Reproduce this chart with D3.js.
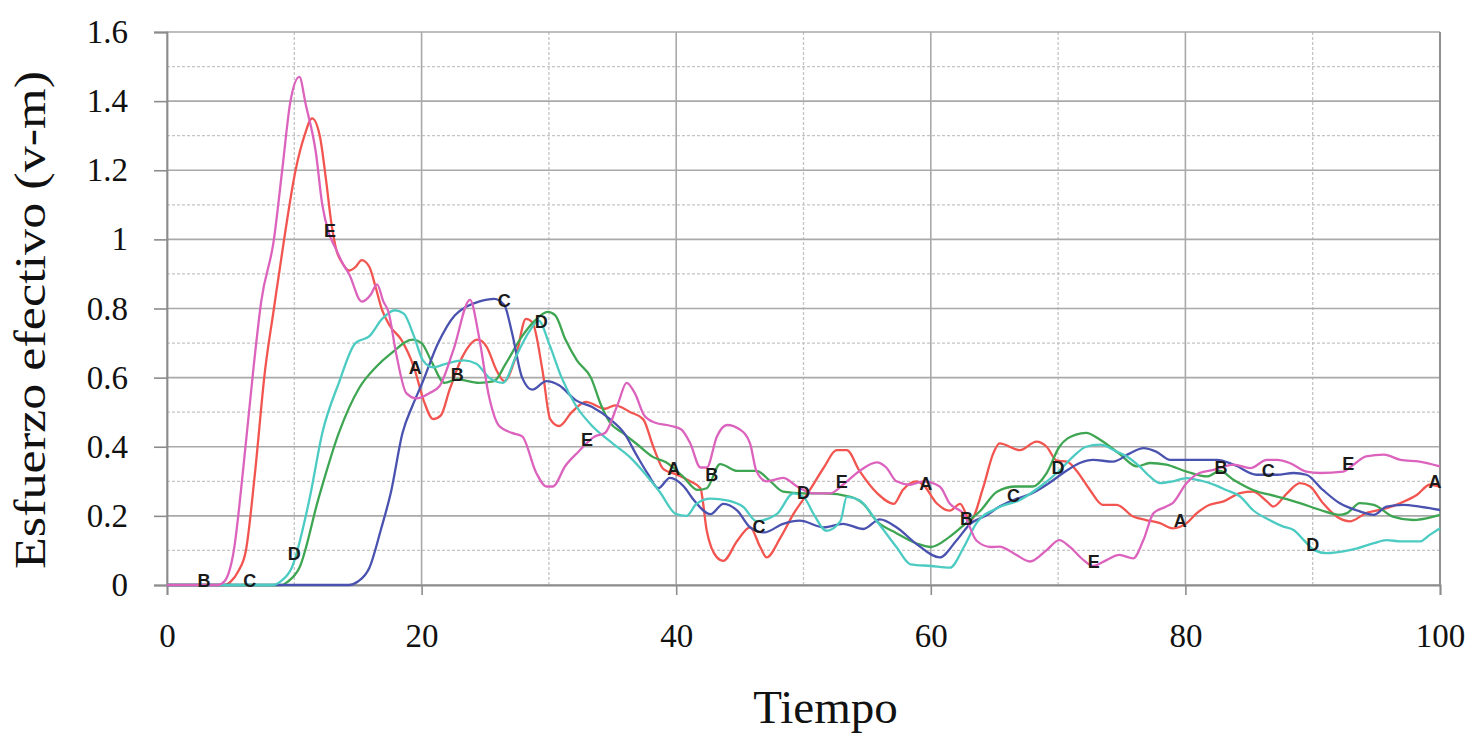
<!DOCTYPE html>
<html>
<head>
<meta charset="utf-8">
<script src="https://d3js.org/d3.v7.min.js"></script>
<style>
body { margin: 0; background: #fff; }
.tick text { font-family: "Liberation Serif", "Times New Roman", serif; fill: #111; }
.curve { fill: none; stroke-width: 2.3; stroke-linejoin: round; }
.tag { font-family: "Liberation Sans", Arial, sans-serif; font-weight: bold; font-size: 18px; fill: #1a1a1a; }
</style>
</head>
<body>
<div id="chart"></div>
<script>
// series A (red)
const serieA = [[0,0],[4.5,0],[5.0,0.01],[5.6,0.04],[6.2,0.10],[6.9,0.32],[7.7,0.62],[8.4,0.80],[9.2,1.0],[10.1,1.2],[10.8,1.3],[11.4,1.35],[12.0,1.3],[12.5,1.17],[12.9,1.05],[13.3,0.97],[13.8,0.93],[14.3,0.91],[14.8,0.92],[15.3,0.94],[15.9,0.92],[16.4,0.86],[16.9,0.795],[17.5,0.75],[18.4,0.71],[19.4,0.63],[20.2,0.53],[20.9,0.48],[21.5,0.49],[22.2,0.565],[23.2,0.66],[24.4,0.71],[25.1,0.69],[25.9,0.62],[26.5,0.59],[27.4,0.66],[28.2,0.77],[28.7,0.76],[29.5,0.62],[30.1,0.48],[30.8,0.46],[31.8,0.50],[32.9,0.53],[34.4,0.51],[35.2,0.52],[36.4,0.50],[37.4,0.48],[38.2,0.40],[39.0,0.335],[40.0,0.32],[41.1,0.30],[41.9,0.28],[42.4,0.157],[43.2,0.08],[43.7,0.07],[44.8,0.128],[45.8,0.167],[46.6,0.11],[47.1,0.08],[48.2,0.138],[49.2,0.205],[50.5,0.275],[51.6,0.34],[52.6,0.39],[53.4,0.39],[54.4,0.33],[55.8,0.265],[57.1,0.235],[57.8,0.275],[58.9,0.30],[59.4,0.29],[60.5,0.235],[61.5,0.215],[62.3,0.235],[63.1,0.186],[64.1,0.28],[64.9,0.38],[65.4,0.41],[67.0,0.39],[68.3,0.415],[69.1,0.40],[69.9,0.36],[70.7,0.357],[71.4,0.333],[72.5,0.275],[73.5,0.232],[74.6,0.232],[75.9,0.198],[76.9,0.188],[78.0,0.179],[79.0,0.164],[80.1,0.179],[80.9,0.208],[81.9,0.232],[83.0,0.242],[84.3,0.266],[85.3,0.27],[86.4,0.242],[86.9,0.227],[88.0,0.266],[89.0,0.295],[89.8,0.285],[90.8,0.237],[92.1,0.193],[92.9,0.184],[94.2,0.208],[95.8,0.222],[96.9,0.237],[98.2,0.261],[99.2,0.29],[100,0.285]];

// series B (green)
const serieB = [[0,0],[9.0,0],[9.5,0.01],[10.4,0.05],[11.9,0.25],[13.5,0.44],[15.1,0.57],[16.4,0.63],[17.6,0.67],[19.3,0.71],[20.0,0.70],[20.8,0.645],[21.8,0.585],[22.8,0.595],[24.5,0.585],[25.7,0.59],[26.6,0.64],[27.9,0.72],[28.9,0.765],[29.9,0.79],[30.5,0.78],[31.3,0.71],[32.2,0.65],[33.3,0.60],[34.1,0.52],[34.8,0.47],[35.8,0.44],[37.0,0.405],[38.2,0.37],[39.2,0.355],[40.5,0.315],[41.7,0.275],[42.4,0.28],[43.45,0.35],[44.8,0.33],[46.3,0.33],[47.4,0.30],[48.4,0.27],[50,0.265],[51.6,0.265],[53.7,0.255],[54.7,0.235],[55.75,0.185],[57.3,0.15],[58.9,0.12],[60,0.11],[61.5,0.14],[62.8,0.18],[63.9,0.215],[65.2,0.27],[66.7,0.285],[68,0.285],[69.1,0.324],[70.1,0.40],[71.4,0.435],[72.2,0.44],[73.3,0.42],[74.8,0.38],[76.2,0.343],[77.2,0.353],[78.5,0.348],[80.1,0.328],[81.7,0.314],[82.7,0.33],[83.8,0.304],[85.3,0.275],[87.2,0.256],[89,0.237],[90.6,0.217],[92.1,0.203],[92.7,0.208],[93.7,0.237],[94.8,0.232],[96.3,0.198],[97.9,0.188],[99.5,0.198],[100,0.203]];

// series C (blue)
const serieC = [[0,0],[14.3,0],[15.0,0.01],[15.9,0.05],[16.8,0.16],[17.6,0.27],[18.5,0.44],[19.3,0.52],[20.0,0.58],[21.3,0.70],[22.6,0.78],[23.5,0.805],[24.5,0.82],[25.7,0.828],[26.5,0.81],[27.1,0.73],[27.9,0.60],[28.7,0.565],[29.8,0.59],[30.8,0.578],[32.1,0.535],[33.4,0.515],[34.8,0.48],[35.9,0.44],[36.9,0.375],[37.8,0.32],[38.6,0.28],[39.5,0.31],[40.6,0.285],[41.4,0.245],[42.7,0.205],[43.7,0.235],[44.8,0.215],[45.8,0.167],[46.9,0.152],[48.4,0.177],[49.7,0.186],[51.6,0.167],[53.1,0.177],[54.7,0.162],[56,0.19],[57.3,0.167],[58.9,0.118],[60.7,0.08],[62,0.128],[63.1,0.177],[64.3,0.20],[65.4,0.227],[66.5,0.246],[68,0.266],[69.3,0.295],[70.4,0.324],[71.7,0.353],[72.75,0.362],[74.3,0.357],[75.6,0.38],[76.7,0.396],[77.7,0.386],[78.8,0.362],[80.6,0.362],[82.5,0.362],[83.8,0.348],[85.6,0.319],[87.2,0.319],[88.5,0.324],[89.5,0.319],[90.8,0.275],[92.1,0.237],[93.7,0.213],[94.8,0.203],[95.8,0.227],[97.1,0.232],[98.4,0.227],[100,0.217]];

// series D (cyan)
const serieD = [[0,0],[8.3,0],[8.9,0.01],[9.8,0.05],[11.2,0.25],[12.2,0.44],[13.5,0.585],[14.8,0.70],[15.9,0.72],[16.9,0.77],[17.9,0.795],[18.6,0.785],[19.4,0.72],[20.1,0.65],[20.9,0.63],[21.9,0.64],[23.3,0.65],[24.3,0.64],[25.3,0.60],[26.4,0.585],[27.4,0.66],[28.4,0.73],[29.2,0.765],[30.0,0.70],[31.0,0.60],[32.1,0.52],[33.4,0.46],[35,0.41],[36.5,0.365],[37.6,0.32],[38.7,0.27],[40,0.205],[40.8,0.20],[41.6,0.235],[42.7,0.25],[44,0.245],[45.3,0.225],[46.3,0.185],[47.9,0.205],[49.2,0.265],[50,0.255],[50.8,0.205],[51.8,0.157],[52.9,0.185],[53.4,0.255],[54.4,0.245],[55.75,0.185],[57.3,0.11],[58.4,0.06],[60,0.055],[61.5,0.05],[62.6,0.11],[63.6,0.18],[65.2,0.222],[67,0.246],[68.6,0.285],[69.9,0.324],[71.2,0.372],[72.2,0.40],[73.3,0.406],[74.6,0.386],[75.4,0.372],[76.4,0.343],[77.2,0.314],[78,0.295],[79,0.30],[80.1,0.309],[80.9,0.304],[81.9,0.295],[83.2,0.275],[84.3,0.256],[85.3,0.217],[86.6,0.188],[87.7,0.169],[88.5,0.159],[89.3,0.13],[90.1,0.101],[91.1,0.092],[92.4,0.097],[93.5,0.106],[94.8,0.121],[95.8,0.13],[96.9,0.126],[98.4,0.126],[99.2,0.145],[100,0.164]];

// series E (magenta)
const serieE = [[0,0],[4.0,0],[4.5,0.01],[5.25,0.1],[6.0,0.34],[6.8,0.63],[7.4,0.82],[8.4,1.0],[9.05,1.2],[9.7,1.4],[10.4,1.47],[10.9,1.39],[11.7,1.25],[12.2,1.1],[12.7,1.02],[13.3,0.97],[13.8,0.93],[14.3,0.90],[15.3,0.82],[16.0,0.84],[16.5,0.87],[17.0,0.82],[17.4,0.79],[18.0,0.67],[18.8,0.555],[19.6,0.54],[20.6,0.555],[21.4,0.575],[22.5,0.68],[23.8,0.825],[24.5,0.72],[25.3,0.545],[26.1,0.46],[27.1,0.44],[27.9,0.43],[29.0,0.325],[29.8,0.285],[30.3,0.285],[31.3,0.345],[32.3,0.385],[33.6,0.43],[34.4,0.44],[35.45,0.527],[36.1,0.585],[36.75,0.555],[37.5,0.49],[38.3,0.47],[39.6,0.46],[40.4,0.45],[41.1,0.41],[41.9,0.34],[42.4,0.34],[43.2,0.43],[44,0.463],[45,0.45],[45.8,0.41],[46.3,0.33],[47.1,0.30],[48.4,0.31],[49.5,0.285],[50.8,0.265],[52.1,0.265],[53.1,0.29],[54.4,0.33],[55.75,0.355],[56.5,0.34],[57.3,0.30],[58.4,0.29],[59.4,0.30],[60.7,0.285],[61.5,0.235],[62.6,0.205],[63.6,0.128],[64.7,0.11],[65.4,0.111],[66.5,0.092],[67.8,0.068],[69.1,0.101],[70.1,0.13],[70.9,0.111],[72,0.072],[72.75,0.055],[73.8,0.072],[74.8,0.087],[75.9,0.077],[76.7,0.13],[77.5,0.208],[78.5,0.227],[79,0.237],[80.1,0.295],[81.1,0.324],[82.2,0.333],[83.8,0.348],[85.1,0.338],[86.4,0.362],[87.2,0.362],[88.2,0.353],[89.5,0.328],[90.6,0.324],[92.4,0.328],[93.2,0.348],[94.2,0.372],[95.6,0.377],[96.9,0.362],[98.4,0.357],[100,0.343]];

// where the letter tags sit along each curve (x in Tiempo units)
const tagsA = [19.5, 39.8, 59.6, 79.6, 99.6];
const tagsB = [2.9, 22.8, 42.8, 62.8, 82.8];
const tagsC = [6.5, 26.5, 46.5, 66.5, 86.5];
const tagsD = [10, 29.4, 50, 70, 90];
const tagsE = [12.8, 33, 53, 72.8, 92.8];

const xTicks = [0, 20, 40, 60, 80, 100];
const yTicks = [0, 0.2, 0.4, 0.6, 0.8, 1, 1.2, 1.4, 1.6];

const series = [
  {name: "A", data: serieA, tags: tagsA, color: "#f2554f"},
  {name: "B", data: serieB, tags: tagsB, color: "#3ea652"},
  {name: "C", data: serieC, tags: tagsC, color: "#4a52b0"},
  {name: "D", data: serieD, tags: tagsD, color: "#4ccbc2"},
  {name: "E", data: serieE, tags: tagsE, color: "#dc63bd"}
];

var margin = {top: 32, right: 32, bottom: 152, left: 167},
    width = 1472 - margin.left - margin.right,
    height = 737 - margin.top - margin.bottom;

const svg = d3.select("#chart")
  .append("svg")
    .attr("width", width + margin.left + margin.right)
    .attr("height", height + margin.top + margin.bottom)
  .append("g")
    .attr("transform", `translate(${margin.left},${margin.top})`);

const x = d3.scaleLinear().domain([0, 100]).range([0, width]);
const y = d3.scaleLinear().domain([0, 1.6]).range([height, 0]);

// minor dashed grid
svg.append("g")
  .selectAll("line")
  .data(d3.range(0.1, 1.6, 0.2))
  .join("line")
    .attr("x1", 0).attr("x2", width)
    .attr("y1", d => y(d)).attr("y2", d => y(d))
    .attr("stroke", "#c4c4c4").attr("stroke-width", 1.3)
    .attr("stroke-dasharray", "3,2");
svg.append("g")
  .selectAll("line")
  .data(d3.range(10, 100, 20))
  .join("line")
    .attr("x1", d => x(d)).attr("x2", d => x(d))
    .attr("y1", 0).attr("y2", height)
    .attr("stroke", "#c4c4c4").attr("stroke-width", 1.3)
    .attr("stroke-dasharray", "3,2");

// major grid
svg.append("g")
  .selectAll("line")
  .data(yTicks)
  .join("line")
    .attr("x1", 0).attr("x2", width)
    .attr("y1", d => y(d)).attr("y2", d => y(d))
    .attr("stroke", "#a9a9a9").attr("stroke-width", 1.6);
svg.append("g")
  .selectAll("line")
  .data(xTicks)
  .join("line")
    .attr("x1", d => x(d)).attr("x2", d => x(d))
    .attr("y1", 0).attr("y2", height)
    .attr("stroke", "#a9a9a9").attr("stroke-width", 1.6);

// axes
const yAxis = svg.append("g")
  .call(d3.axisLeft(y).tickValues(yTicks).tickSize(13).tickPadding(26)
    .tickFormat(d => String(+d.toFixed(1))));
const xAxis = svg.append("g")
  .attr("transform", `translate(0,${height})`)
  .call(d3.axisBottom(x).tickValues(xTicks).tickSize(10).tickPadding(29));
[yAxis, xAxis].forEach(a => {
  a.select(".domain").attr("stroke", "#8c8c8c").attr("stroke-width", 1.8);
  a.selectAll(".tick line").attr("stroke", "#8c8c8c").attr("stroke-width", 1.6);
  a.selectAll(".tick text").style("font-size", "33px");
});
svg.append("line")
  .attr("x1", width).attr("x2", width).attr("y1", 0).attr("y2", height)
  .attr("stroke", "#8c8c8c").attr("stroke-width", 1.8);

// curves
const line = d3.line()
  .x(d => x(d[0]))
  .y(d => y(d[1]))
  .curve(d3.curveMonotoneX);

svg.append("g")
  .selectAll("path")
  .data(series)
  .join("path")
    .attr("class", "curve")
    .attr("stroke", d => d.color)
    .attr("d", d => line(d.data));

// letter tags on each curve
function valueAt(data, t) {
  const i = d3.bisector(d => d[0]).left(data, t);
  if (i <= 0) return data[0][1];
  if (i >= data.length) return data[data.length - 1][1];
  const a = data[i - 1], b = data[i];
  return a[1] + (b[1] - a[1]) * (t - a[0]) / (b[0] - a[0]);
}

series.forEach(s => {
  svg.append("g")
    .selectAll("text")
    .data(s.tags)
    .join("text")
      .attr("class", "tag")
      .attr("text-anchor", "middle")
      .attr("x", t => x(t))
      .attr("y", t => y(valueAt(s.data, t)) + 2)
      .text(s.name);
});

// axis titles
svg.append("text")
  .attr("transform", `translate(${45 - margin.left},${320 - margin.top}) rotate(-90)`)
  .attr("text-anchor", "middle")
  .attr("textLength", 498)
  .attr("lengthAdjust", "spacingAndGlyphs")
  .style("font-family", "'Liberation Serif', 'Times New Roman', serif")
  .style("font-size", "44px")
  .attr("fill", "#111")
  .text("Esfuerzo efectivo (v-m)");

svg.append("text")
  .attr("x", width / 2 + 22)
  .attr("y", height + 138)
  .attr("text-anchor", "middle")
  .style("font-family", "'Liberation Serif', 'Times New Roman', serif")
  .style("font-size", "47px")
  .attr("fill", "#111")
  .text("Tiempo");
</script>
</body>
</html>
